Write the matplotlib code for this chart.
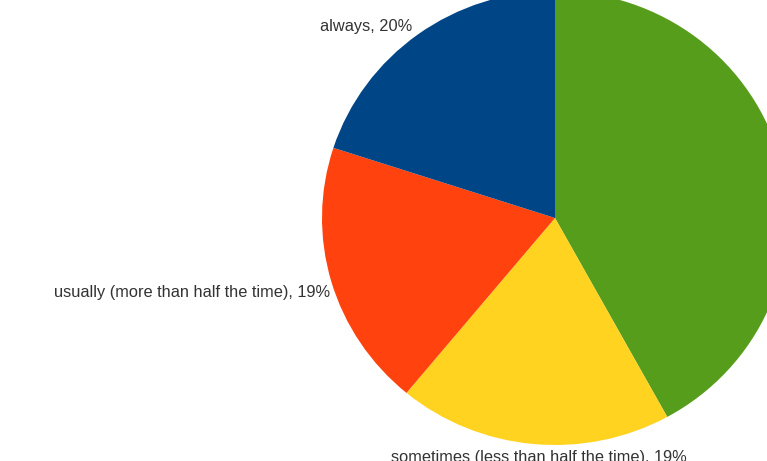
import matplotlib
matplotlib.use("Agg")
import matplotlib.pyplot as plt
import numpy as np

# Share of responses per frequency category
categories = ["never", "sometimes (less than half the time)",
              "usually (more than half the time)", "always"]
values = [42, 19, 19, 20]
colors = ["#579d1c", "#ffd320", "#ff420e", "#004586"]
show_label = [False, True, True, True]

W, H = 767, 461
fig = plt.figure(figsize=(W / 100, H / 100), dpi=100)
ax = fig.add_axes([0, 0, 1, 1])

cx, cy = 555, H - 218
rx, ry = 233, 227

wedges, _ = ax.pie(values, colors=colors, startangle=90, counterclock=False,
                   center=(cx, cy), radius=rx,
                   wedgeprops=dict(linewidth=0, antialiased=True))
ax.set_aspect("auto")
# stretch vertically so the pie is drawn with its own radii
ax.set_xlim(0, W)
ax.set_ylim(cy - (cy) * rx / ry, cy + (H - cy) * rx / ry)
ax.axis("off")

# label placement per slice (pixel anchor, alignment)
label_pos = {
    "always": (412, 27, "right"),
    "usually (more than half the time)": (330, 292, "right"),
    "sometimes (less than half the time)": (391, 457, "left"),
}

for cat, val, show in zip(categories, values, show_label):
    if not show:
        continue
    px, py, ha = label_pos[cat]
    fig.text(px / W, 1 - py / H, f"{cat}, {val}%", ha=ha, va="center",
             fontsize=11.8, color="#333333", family="Liberation Sans")

fig.savefig("out.png", dpi=100, facecolor="white")
